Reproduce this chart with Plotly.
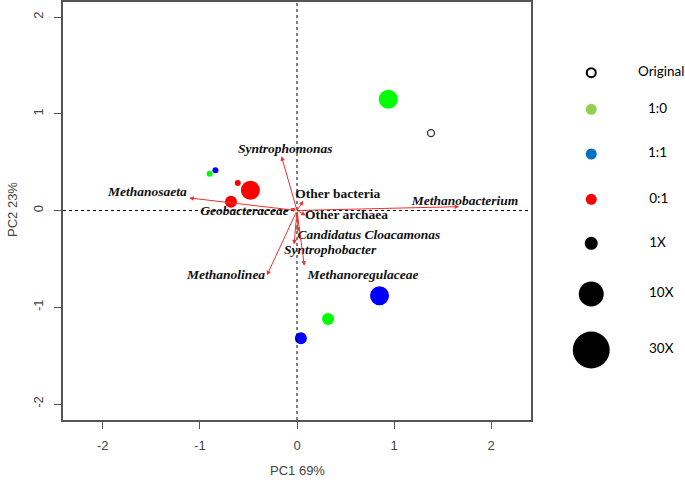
import plotly.graph_objects as go

# ---- sample scores (PC1, PC2) ----
sample_group = ["Original", "1:0", "1:0", "1:0", "1:1", "1:1", "1:1", "0:1", "0:1", "0:1"]
sample_dose = ["1X", "1X", "10X", "30X", "1X", "10X", "30X", "1X", "10X", "30X"]
sample_pc1 = [1.38, -0.90, 0.32, 0.94, -0.84, 0.04, 0.85, -0.61, -0.68, -0.48]
sample_pc2 = [0.80, 0.38, -1.12, 1.15, 0.415, -1.32, -0.88, 0.284, 0.09, 0.21]

# ---- taxa loadings (arrow tips) ----
taxa = ["Methanosaeta", "Syntrophomonas", "Methanobacterium", "Geobacteraceae",
        "Other bacteria", "Other archaea", "Candidatus Cloacamonas",
        "Syntrophobacter", "Methanolinea", "Methanoregulaceae"]
taxa_pc1 = [-1.11, -0.16, 1.67, -0.07, 0.065, 0.09, 0.01, -0.03, -0.31, 0.075]
taxa_pc2 = [0.13, 0.56, 0.04, 0.02, 0.10, -0.05, -0.22, -0.35, -0.67, -0.57]
taxa_italic = [True, True, True, True, False, False, True, True, True, True]
# label anchors
label_pc1 = [-1.54, -0.12, 1.73, -0.54, 0.42, 0.51, 0.74, 0.34, -0.73, 0.68]
label_pc2 = [0.18, 0.625, 0.09, -0.01, 0.16, -0.05, -0.26, -0.41, -0.67, -0.67]

# ---- legend ----
legend_labels = ["Original", "1:0", "1:1", "0:1", "1X", "10X", "30X"]

# styles / layout constants
group_color = {"Original": "white", "1:0": "#00FF00", "1:1": "#0000FF", "0:1": "#FF0000"}
dose_size = {"1X": 6, "10X": 12, "30X": 19}
legend_colors = ["white", "#92D050", "#0070C0", "#FF0000", "black", "black", "black"]
legend_sizes = [9, 11, 11, 11, 13, 25, 37]
legend_rows_px = [72.7, 109.3, 154, 199.3, 243.3, 294, 350]   # vertical slots (page pixels)
legend_label_x = [0.81, 0.78, 0.78, 0.79, 0.78, 0.81, 0.81]

W, H = 685, 484
L, R, T, B = 63, 0, 2, 64
PW = W - L - R
PH = H - T - B

fig = go.Figure()

# reference lines
fig.add_hline(y=0, line=dict(color="black", width=1, dash="dot"))
fig.add_vline(x=0, line=dict(color="black", width=1, dash="dot"))

# arrows
for name, x, y in zip(taxa, taxa_pc1, taxa_pc2):
    fig.add_annotation(x=x, y=y, ax=0, ay=0, xref="x", yref="y", axref="x", ayref="y",
                       text="", showarrow=True, arrowhead=2, arrowsize=0.9,
                       arrowwidth=1, arrowcolor="#F03030")

# arrow labels
texts = [("<b><i>%s</i></b>" % t) if it else ("<b>%s</b>" % t) for t, it in zip(taxa, taxa_italic)]
fig.add_trace(go.Scatter(x=label_pc1, y=label_pc2, mode="text", text=texts,
                         textposition="middle center",
                         textfont=dict(family="Liberation Serif", size=13.5, color="#111111"),
                         hoverinfo="skip", showlegend=False))

# samples
fig.add_trace(go.Scatter(
    x=sample_pc1, y=sample_pc2, mode="markers", showlegend=False,
    marker=dict(color=[group_color[g] for g in sample_group], opacity=1,
                size=[dose_size[d] + (1 if g == "Original" else 0) for d, g in zip(sample_dose, sample_group)],
                line=dict(color=["#333333" if g == "Original" else "rgba(0,0,0,0)" for g in sample_group],
                          width=[1.3 if g == "Original" else 0 for g in sample_group]))))

# legend panel
fig.add_trace(go.Scatter(
    x=[0.25] * len(legend_labels), y=legend_rows_px, mode="markers", xaxis="x2", yaxis="y2",
    showlegend=False, hoverinfo="skip",
    marker=dict(color=legend_colors, size=legend_sizes, opacity=1,
                line=dict(color="black", width=[2, 0, 0, 0, 0, 0, 0]))))
fig.add_trace(go.Scatter(
    x=legend_label_x, y=legend_rows_px, mode="text", text=legend_labels,
    xaxis="x2", yaxis="y2", showlegend=False, hoverinfo="skip",
    textposition="middle center", textfont=dict(family="Lato", size=13.5, color="black")))

axis_common = dict(showgrid=False, zeroline=False, showline=True, mirror=True, automargin=False,
                   linecolor="#555555", linewidth=1.5, ticks="outside", ticklen=7,
                   tickcolor="#555555", tickwidth=1.2,
                   tickfont=dict(family="Liberation Sans", size=13, color="#444444"),
                   tickvals=[-2, -1, 0, 1, 2], ticktext=["-2", "-1", "0", "1", "2"])

main_frac = 468 / PW
fig.update_layout(
    width=W, height=H, margin=dict(l=L, r=R, t=T, b=B),
    paper_bgcolor="white", plot_bgcolor="white",
    xaxis=dict(range=[-2.41, 2.41], domain=[0, main_frac], ticklabelstandoff=6, **axis_common),
    yaxis=dict(range=[-2.165, 2.155], tickangle=-90, ticklabelstandoff=6, **axis_common),
    xaxis2=dict(domain=[(560 - L) / PW, 1], range=[0, 1], visible=False, anchor="y2"),
    yaxis2=dict(domain=[0, 1], range=[H - B, T], visible=False, anchor="x2"),
)

# axis titles
fig.add_annotation(text="PC1 69%", xref="paper", yref="paper", x=234 / PW, y=-(470 - T - PH) / PH,
                   showarrow=False, font=dict(family="Liberation Sans", size=13, color="#444444"),
                   xanchor="center", yanchor="middle")
fig.add_annotation(text="PC2 23%", xref="paper", yref="paper", x=-(L - 12) / PW, y=(PH + T - 210) / PH,
                   showarrow=False, textangle=-90,
                   font=dict(family="Liberation Sans", size=13, color="#444444"),
                   xanchor="center", yanchor="middle")

fig.write_html("out.html", config={"displayModeBar": False},
               post_script="document.body.style.margin='0px';document.body.style.overflow='hidden';")
